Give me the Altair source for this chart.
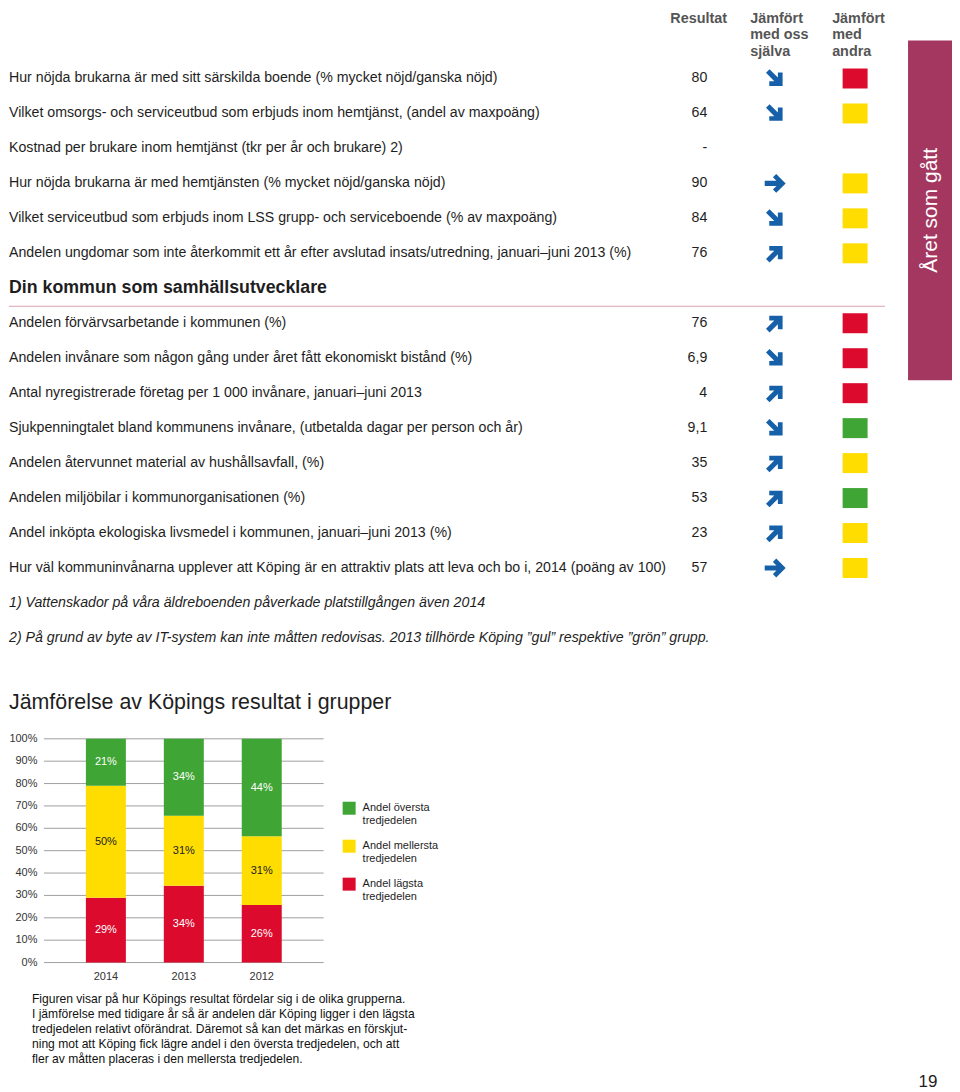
import altair as alt
import pandas as pd

FONT = "Liberation Sans"

# ---------------- table data ----------------
column_headers = ["Resultat", "Jämfört\nmed oss\nsjälva", "Jämfört\nmed\nandra"]
band_text = "Året som gått"

section1_labels = [
    "Hur nöjda brukarna är med sitt särskilda boende (% mycket nöjd/ganska nöjd)",
    "Vilket omsorgs- och serviceutbud som erbjuds inom hemtjänst, (andel av maxpoäng)",
    "Kostnad per brukare inom hemtjänst (tkr per år och brukare) 2)",
    "Hur nöjda brukarna är med hemtjänsten (% mycket nöjd/ganska nöjd)",
    "Vilket serviceutbud som erbjuds inom LSS grupp- och serviceboende (% av maxpoäng)",
    "Andelen ungdomar som inte återkommit ett år efter avslutad insats/utredning, januari–juni 2013 (%)",
]
section1_values = ["80", "64", "-", "90", "84", "76"]
section1_trends = ["ned", "ned", "", "oför", "ned", "upp"]
section1_colors = ["röd", "gul", "", "gul", "gul", "gul"]

section2_header = "Din kommun som samhällsutvecklare"
section2_labels = [
    "Andelen förvärvsarbetande i kommunen (%)",
    "Andelen invånare som någon gång under året fått ekonomiskt bistånd (%)",
    "Antal nyregistrerade företag per 1 000 invånare, januari–juni 2013",
    "Sjukpenningtalet bland kommunens invånare, (utbetalda dagar per person och år)",
    "Andelen återvunnet material av hushållsavfall, (%)",
    "Andelen miljöbilar i kommunorganisationen (%)",
    "Andel inköpta ekologiska livsmedel i kommunen, januari–juni 2013 (%)",
    "Hur väl kommuninvånarna upplever att Köping är en attraktiv plats att leva och bo i, 2014 (poäng av 100)",
]
section2_values = ["76", "6,9", "4", "9,1", "35", "53", "23", "57"]
section2_trends = ["upp", "ned", "upp", "ned", "upp", "upp", "upp", "oför"]
section2_colors = ["röd", "röd", "röd", "grön", "gul", "grön", "gul", "gul"]

footnotes = [
    "1) Vattenskador på våra äldreboenden påverkade platstillgången även 2014",
    "2) På grund av byte av IT-system kan inte måtten redovisas. 2013 tillhörde Köping ”gul” respektive ”grön” grupp.",
]

# ---------------- bar chart data ----------------
chart_title = "Jämförelse av Köpings resultat i grupper"
years = ["2014", "2013", "2012"]
share_lower = [29, 34, 26]
share_middle = [50, 31, 31]
share_upper = [21, 34, 44]
y_ticks = [0, 0.1, 0.2, 0.3, 0.4, 0.5, 0.6, 0.7, 0.8, 0.9, 1.0]
group_keys = ["översta", "mellersta", "lägsta"]
group_labels = ["Andel översta\ntredjedelen", "Andel mellersta\ntredjedelen", "Andel lägsta\ntredjedelen"]
caption_lines = [
    "Figuren visar på hur Köpings resultat fördelar sig i de olika grupperna.",
    "I jämförelse med tidigare år så är andelen där Köping ligger i den lägsta",
    "tredjedelen relativt oförändrat. Däremot så kan det märkas en förskjut-",
    "ning mot att Köping fick lägre andel i den översta tredjedelen, och att",
    "fler av måtten placeras i den mellersta tredjedelen.",
]
page_number = "19"

# ---------------- styles ----------------
RED, YELLOW, GREEN = "#dc0a2d", "#ffdd00", "#3fa535"
ARROW = "#1660a9"
BAND = "#a3375f"
TXT = "#1e1e1e"

# ---------------- build table ----------------
rows = []
for i, (l, v, t, c) in enumerate(zip(section1_labels, section1_values, section1_trends, section1_colors)):
    rows.append({"idx": i, "label": l, "value": v, "trend": t, "col": c})
off = len(section1_labels) + 1
for i, (l, v, t, c) in enumerate(zip(section2_labels, section2_values, section2_trends, section2_colors)):
    rows.append({"idx": off + i, "label": l, "value": v, "trend": t, "col": c})
rows_df = pd.DataFrame(rows)
head_df = pd.DataFrame({"idx": [len(section1_labels)], "label": [section2_header]})
foot_start = off + len(section2_labels)
foot_df = pd.DataFrame({"idx": [foot_start + i for i in range(len(footnotes))], "label": footnotes})

TOP_W = 944
TOP_H = 715
ROW = 35.0
yscale = alt.Scale(domain=[-2, -2 + TOP_H / ROW], reverse=True, nice=False, zero=False)
Y = alt.Y("idx:Q", scale=yscale, axis=None)

base_rows = alt.Chart(rows_df)

band = alt.Chart(pd.DataFrame({"t": [band_text]})).mark_rect(color=BAND).encode(
    x=alt.value(900), x2=alt.value(TOP_W), y=alt.value(32), y2=alt.value(372)
)
band_label = alt.Chart(pd.DataFrame({"t": [band_text]})).mark_text(
    angle=270, color="white", fontSize=21, font=FONT
).encode(x=alt.value(923), y=alt.value(202), text="t:N")

header_layers = []
for txt, xpos in zip(column_headers, [662, 742, 824]):
    header_layers.append(
        alt.Chart(pd.DataFrame({"t": [txt]})).mark_text(
            align="left", baseline="top", lineBreak="\n", lineHeight=16.5,
            fontSize=14.4, fontWeight="bold", color="#555555", font=FONT
        ).encode(x=alt.value(xpos), y=alt.value(3), text="t:N")
    )

labels = base_rows.mark_text(align="left", baseline="middle", fontSize=14.2, color=TXT, font=FONT).encode(
    x=alt.value(0), y=Y, text="label:N"
)
values = base_rows.mark_text(align="right", baseline="middle", fontSize=14.2, color=TXT, font=FONT).encode(
    x=alt.value(699), y=Y, text="value:N"
)
section_head = alt.Chart(head_df).mark_text(
    align="left", baseline="middle", fontSize=17.8, fontWeight="bold", color=TXT, font=FONT
).encode(x=alt.value(0), y=Y, text="label:N")
sep = alt.Chart(head_df).mark_rule(color="#d9a4b0", strokeWidth=1).encode(
    x=alt.value(0), x2=alt.value(877), y=alt.value(298)
)

ARROW_PATH = ("M -1 -0.24 L 0.12 -0.24 L -0.218 -0.582 L 0.1 -0.9 L 1 0 "
              "L 0.1 0.9 L -0.218 0.582 L 0.12 0.24 L -1 0.24 Z")
arrow_layers = []
for trend, ang in [("ned", 45), ("oför", 0), ("upp", 315)]:
    arrow_layers.append(
        base_rows.transform_filter(alt.datum.trend == trend).mark_point(
            shape=ARROW_PATH, filled=True, size=440, color=ARROW, opacity=1, angle=ang, strokeWidth=0
        ).encode(x=alt.value(767), y=Y)
    )

SQUARE_PATH = "M -1 -0.8 L 1 -0.8 L 1 0.8 L -1 0.8 Z"
squares = base_rows.transform_filter(alt.datum.col != "").mark_point(
    shape=SQUARE_PATH, filled=True, size=625, opacity=1, strokeWidth=0
).encode(
    x=alt.value(847), y=Y,
    color=alt.Color("col:N", scale=alt.Scale(domain=["röd", "gul", "grön"], range=[RED, YELLOW, GREEN]), legend=None),
)

foot = alt.Chart(foot_df).mark_text(
    align="left", baseline="middle", fontSize=14.2, fontStyle="italic", color=TXT, font=FONT
).encode(x=alt.value(0), y=Y, text="label:N")

title = alt.Chart(pd.DataFrame({"t": [chart_title]})).mark_text(
    align="left", baseline="middle", fontSize=21.4, color=TXT, font=FONT
).encode(x=alt.value(0), y=alt.value(695), text="t:N")

top = alt.layer(
    band, band_label, *header_layers, labels, values, section_head, sep,
    *arrow_layers, squares, foot, title
).properties(width=TOP_W, height=TOP_H)

# ---------------- bar chart (axes drawn as marks so nothing overhangs) ----------------
brows = []
for i, yr in enumerate(years):
    for key, order, val in [("lägsta", 0, share_lower[i]), ("mellersta", 1, share_middle[i]), ("översta", 2, share_upper[i])]:
        brows.append({"year": yr, "key": key, "order": order, "value": val})
bars_df = pd.DataFrame(brows)
ticks_df = pd.DataFrame({"t": y_ticks})
years_df = pd.DataFrame({"year": years})

BW, BH = 330, 250
color_scale = alt.Scale(domain=group_keys, range=[GREEN, YELLOW, RED])
xscale = alt.Scale(range=[35, 315], paddingInner=0.487, paddingOuter=0.538)
yscale_b = alt.Scale(domain=[0, 1], range=[230, 6], nice=False, zero=True)
XB = alt.X("year:N", sort=years, scale=xscale, axis=None)

grid = alt.Chart(ticks_df).mark_rule(color="#a0a0a0", strokeWidth=1).encode(
    y=alt.Y("t:Q", scale=yscale_b, axis=None), x=alt.value(35), x2=alt.value(315)
)
ylabels = alt.Chart(ticks_df).transform_calculate(
    lab="format(datum.t, '.0%')"
).mark_text(align="right", baseline="middle", fontSize=11, color="#333333", font=FONT).encode(
    y=alt.Y("t:Q", scale=yscale_b, axis=None), x=alt.value(28.5), text="lab:N"
)
xlabels = alt.Chart(years_df).mark_text(
    align="center", baseline="middle", fontSize=11, color="#333333", font=FONT
).encode(x=XB, y=alt.value(244), text="year:N")

bars = alt.Chart(bars_df).mark_bar().encode(
    x=XB,
    y=alt.Y("value:Q", stack="normalize", scale=yscale_b, axis=None),
    color=alt.Color("key:N", scale=color_scale, legend=None),
    order=alt.Order("order:Q", sort="ascending"),
)

seg_labels = alt.Chart(bars_df).transform_joinaggregate(
    total="sum(value)", groupby=["year"]
).transform_calculate(
    frac="datum.value / datum.total", txt="datum.value + '%'"
).transform_stack(
    stack="frac", groupby=["year"], as_=["y0", "y1"], sort=[alt.SortField("order", "ascending")]
).transform_calculate(
    mid="(datum.y0 + datum.y1) / 2"
).mark_text(fontSize=11, font=FONT).encode(
    x=XB,
    y=alt.Y("mid:Q", scale=yscale_b, axis=None),
    text="txt:N",
    color=alt.condition(alt.datum.key == "mellersta", alt.value("#222222"), alt.value("white")),
)

bar_chart = alt.layer(grid, ylabels, xlabels, bars, seg_labels).properties(width=BW, height=BH)

legend_df = pd.DataFrame({"idx": list(range(len(group_keys))), "key": group_keys, "label": group_labels})
LD0 = -75.5 / 38.0
LY = alt.Y("idx:Q", scale=alt.Scale(domain=[LD0, LD0 + BH / 38.0], reverse=True, nice=False, zero=False), axis=None)
leg_sq = alt.Chart(legend_df).mark_square(size=169, opacity=1).encode(
    x=alt.value(6.5), y=LY, color=alt.Color("key:N", scale=color_scale, legend=None)
)
leg_tx = alt.Chart(legend_df).mark_text(
    align="left", baseline="top", dy=-6.5, lineBreak="\n", lineHeight=13, fontSize=11, color=TXT, font=FONT
).encode(x=alt.value(20), y=LY, text="label:N")
legend_chart = alt.layer(leg_sq, leg_tx).properties(width=110, height=BH)

mid = alt.hconcat(bar_chart, legend_chart, spacing=4)

caption = alt.Chart(pd.DataFrame({"t": ["\n".join(caption_lines)]})).mark_text(
    align="left", baseline="top", lineBreak="\n", lineHeight=15.2, fontSize=12.1, color="#111111", font=FONT
).encode(x=alt.value(23), y=alt.value(0), text="t:N")
pnum = alt.Chart(pd.DataFrame({"t": [page_number]})).mark_text(
    align="center", baseline="middle", fontSize=17, color=TXT, font=FONT
).encode(x=alt.value(920), y=alt.value(90), text="t:N")
cap_chart = alt.layer(caption, pnum).properties(width=400, height=76)

chart = alt.vconcat(top, mid, cap_chart, spacing=10).properties(
    padding=0
).resolve_scale(color="independent").configure_view(stroke=None)

chart.save("out.html", embed_options={"renderer": "svg", "actions": False})
